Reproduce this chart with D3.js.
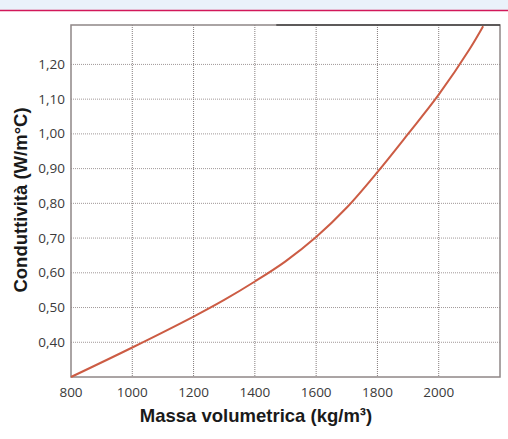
<!DOCTYPE html>
<html lang="it">
<head>
    <meta charset="UTF-8">
    <title>Conduttività / Massa volumetrica</title>
    <style>
        html, body { margin: 0; padding: 0; background: #fff; }
        #chart { width: 508px; height: 439px; }
        .tick-label { font-family: "Open Sans", "Liberation Sans", sans-serif; font-size: 13.5px; fill: #3a3a3a; }
        .axis-title { font-family: "Liberation Sans", Arial, sans-serif; font-weight: bold; font-size: 18.5px; fill: #1a1a1a; }
    </style>
</head>
<body>
    <div id="chart"></div>
    <script src="https://d3js.org/d3.v7.min.js"></script>
    <script>
        // Values
        const densita      = [800, 1000, 1200, 1300, 1400, 1500, 1600, 1700, 1800, 1900, 2000, 2100, 2145];
        const conduttivita = [0.30, 0.385, 0.474, 0.522, 0.575, 0.633, 0.703, 0.788, 0.89, 1.0, 1.113, 1.243, 1.31];

        const xTicks = [800, 1000, 1200, 1400, 1600, 1800, 2000];
        const yTicks = [0.40, 0.50, 0.60, 0.70, 0.80, 0.90, 1.00, 1.10, 1.20];
        const xGrid = [1000, 1200, 1400, 1600, 1800, 2000];

        const xTitle = "Massa volumetrica (kg/m³)";
        const yTitle = "Conduttività (W/m°C)";

        const width = 508, height = 439;
        const svg = d3.select("#chart").append("svg")
            .attr("width", width)
            .attr("height", height);

        // header band
        svg.append("rect").attr("x", 0).attr("y", 0).attr("width", width).attr("height", 10)
            .attr("fill", "#eaf2fa");
        svg.append("line").attr("x1", 0).attr("x2", width).attr("y1", 10.5).attr("y2", 10.5)
            .attr("stroke", "#d2185a").attr("stroke-width", 1.5);

        const x = d3.scaleLinear().domain([800, 2200]).range([71, 500]);
        const y = d3.scaleLinear().domain([0.30, 1.3135]).range([377, 25]);

        const it = d3.formatLocale({ decimal: ",", thousands: ".", grouping: [3], currency: ["", "€"] });
        const fmtY = it.format(".2f");

        // grid
        svg.append("g").selectAll("line").data(yTicks).join("line")
            .attr("x1", x(800)).attr("x2", x(2200))
            .attr("y1", d => y(d)).attr("y2", d => y(d))
            .attr("stroke", "#a09898").attr("stroke-width", 1)
            .attr("stroke-dasharray", "1,1");
        svg.append("g").selectAll("line").data(xGrid).join("line")
            .attr("x1", d => x(d)).attr("x2", d => x(d))
            .attr("y1", y.range()[1]).attr("y2", y.range()[0])
            .attr("stroke", "#847c7c").attr("stroke-width", 1)
            .attr("stroke-dasharray", "1,1");

        // frame
        svg.append("rect")
            .attr("x", x(800)).attr("y", y.range()[1])
            .attr("width", x(2200) - x(800)).attr("height", y.range()[0] - y.range()[1])
            .attr("fill", "none").attr("stroke", "#8f8787").attr("stroke-width", 1.5);
        svg.append("line")
            .attr("x1", x(1470)).attr("x2", x(2200))
            .attr("y1", y.range()[1]).attr("y2", y.range()[1])
            .attr("stroke", "#111").attr("stroke-width", 1.2);

        // curve
        const pts = densita.map((d, i) => [d, conduttivita[i]]);
        const line = d3.line()
            .x(d => x(d[0]))
            .y(d => y(d[1]))
            .curve(d3.curveCatmullRom.alpha(0.5));
        svg.append("path")
            .datum(pts)
            .attr("fill", "none")
            .attr("stroke", "#cc5c44")
            .attr("stroke-width", 2)
            .attr("d", line);

        // tick labels
        svg.append("g").selectAll("text").data(xTicks).join("text")
            .attr("class", "tick-label")
            .attr("x", d => x(d)).attr("y", 397)
            .attr("text-anchor", "middle")
            .text(d => d);
        svg.append("g").selectAll("text").data(yTicks).join("text")
            .attr("class", "tick-label")
            .attr("x", 65).attr("y", d => y(d) + 4.5)
            .attr("text-anchor", "end")
            .text(d => fmtY(d));

        // titles
        svg.append("text").attr("class", "axis-title")
            .attr("x", 256).attr("y", 422)
            .attr("text-anchor", "middle")
            .text(xTitle);
        svg.append("text").attr("class", "axis-title")
            .attr("transform", "translate(27,200) rotate(-90)")
            .attr("text-anchor", "middle")
            .text(yTitle);
    </script>
</body>
</html>
